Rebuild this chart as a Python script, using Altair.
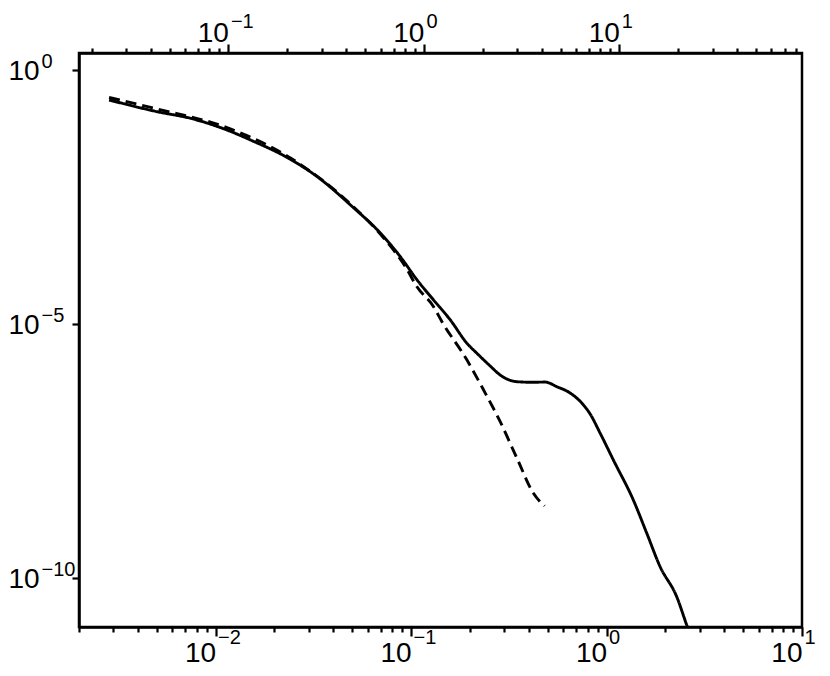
import altair as alt
import pandas as pd

# ---- values (log10 of x and y) ----
solid_log_x = [-2.545, -2.298, -2.128, -1.958, -1.821, -1.617, -1.480, -1.310, -1.140, -1.055,
               -0.969, -0.885, -0.799, -0.714, -0.663, -0.595, -0.544, -0.458, -0.374, -0.314,
               -0.254, -0.186, -0.118, -0.084, -0.033, 0.035, 0.137, 0.206, 0.274, 0.359,
               0.410, 0.437]
solid_log_y = [-0.600, -0.831, -0.961, -1.167, -1.388, -1.768, -2.110, -2.667, -3.291, -3.685,
               -4.144, -4.537, -4.931, -5.390, -5.587, -5.837, -6.014, -6.146, -6.157, -6.152,
               -6.244, -6.368, -6.604, -6.781, -7.156, -7.687, -8.474, -9.130, -9.787, -10.378,
               -10.935, -11.230]

dashed_log_x = [-2.545, -2.298, -1.958, -1.617, -1.310, -1.140, -1.029, -0.969, -0.885, -0.842,
                -0.714, -0.629, -0.544, -0.458, -0.374, -0.317]
dashed_log_y = [-0.551, -0.778, -1.122, -1.742, -2.648, -3.317, -3.882, -4.281, -4.669, -4.965,
                -5.719, -6.309, -6.933, -7.654, -8.343, -8.593]

# axes
x_domain = [2.0e-3, 10.0]
x_top_domain = [0.0172, 86.0]
y_domain = [10 ** -10.974, 10 ** 0.325]
x_major = [0.01, 0.1, 1.0, 10.0]
x_major_exp = ["−2", "−1", "0", "1"]
x_top_major = [0.1, 1.0, 10.0]
x_top_major_exp = ["−1", "0", "1"]
y_major = [1.0, 1e-5, 1e-10]
y_major_exp = ["0", "−5", "−10"]
minor_mult = [2, 3, 4, 5, 6, 7, 8, 9]

rows = []
for i, (lx, ly) in enumerate(zip(solid_log_x, solid_log_y)):
    rows.append({"x": 10 ** lx, "y": 10 ** ly, "series": "solid", "i": i})
for i, (lx, ly) in enumerate(zip(dashed_log_x, dashed_log_y)):
    rows.append({"x": 10 ** lx, "y": 10 ** ly, "series": "dashed", "i": i})
df = pd.DataFrame(rows)


def tick_values(domain, majors):
    vals = list(majors)
    for m in majors + [majors[0] / 10]:
        for k in minor_mult:
            v = round(k * m, 12)
            if domain[0] <= v <= domain[1]:
                vals.append(v)
    return sorted(set(vals))


def label_expr(values, labels):
    expr = "''"
    for v, l in zip(values, labels):
        expr = f"abs(datum.value/{v} - 1) < 1e-6 ? '{l}' : ({expr})"
    return expr


def major_test(values):
    return " || ".join(f"abs(datum.value/{v} - 1) < 1e-6" for v in values)


FONT = "Liberation Sans Narrow, Liberation Sans, Arial, Helvetica, sans-serif"
BASE_SIZE = 28
EXP_SIZE = 20
common = dict(labelFont=FONT, labelColor="black", grid=False, title=None,
              labelFlush=False, labelOverlap=False, labelBound=False,
              domainColor="black", domainWidth=2.5, tickColor="black", tickWidth=2.2)
exp_common = dict(common, domain=False, ticks=True, tickSize=0, tickWidth=0,
                  labelFontSize=EXP_SIZE, labelBaseline="alphabetic")

# base "10" labels with ticks
x_axis = alt.Axis(
    orient="bottom", values=tick_values(x_domain, x_major),
    labelExpr=label_expr(x_major, ["10"] * len(x_major)),
    tickSize={"condition": {"test": major_test(x_major), "value": 9}, "value": 5},
    labelAlign="right", labelBaseline="alphabetic", labelPadding=25,
    labelFontSize=BASE_SIZE, **common,
)
x_top_axis = alt.Axis(
    orient="top", values=tick_values(x_top_domain, x_top_major),
    labelExpr=label_expr(x_top_major, ["10"] * len(x_top_major)),
    tickSize={"condition": {"test": major_test(x_top_major), "value": 9}, "value": 5},
    labelAlign="right", labelBaseline="alphabetic", labelPadding=3,
    labelFontSize=BASE_SIZE, **common,
)
y_axis = alt.Axis(
    orient="left", values=y_major, labelExpr=label_expr(y_major, ["10"] * len(y_major)),
    tickSize=7, labelAlign="left", labelPadding=64, labelBaseline="alphabetic", labelOffset=10,
    labelFontSize=BASE_SIZE, **common,
)
# exponent labels
x_exp_axis = alt.Axis(orient="bottom", values=x_major, labelExpr=label_expr(x_major, x_major_exp),
                      labelAlign="left", labelPadding=16, labelOffset=2, **exp_common)
x_top_exp_axis = alt.Axis(orient="top", values=x_top_major,
                          labelExpr=label_expr(x_top_major, x_top_major_exp),
                          labelAlign="left", labelPadding=26, labelOffset=2, **exp_common)
y_exp_axis = alt.Axis(orient="left", values=y_major, labelExpr=label_expr(y_major, y_major_exp),
                      labelAlign="left", labelPadding=38, labelOffset=-2, **exp_common)

xs = alt.Scale(type="log", domain=x_domain, nice=False)
xts = alt.Scale(type="log", domain=x_top_domain, nice=False)
ys = alt.Scale(type="log", domain=y_domain, nice=False)

lines = alt.Chart(df).mark_line(clip=True, color="black", strokeWidth=2.9,
                                interpolate="monotone").encode(
    x=alt.X("x:Q", scale=xs, axis=x_axis),
    y=alt.Y("y:Q", scale=ys, axis=y_axis),
    strokeDash=alt.StrokeDash("series:N", scale=alt.Scale(domain=["solid", "dashed"],
                                                          range=[[1, 0], [11, 6]]), legend=None),
    detail="series:N",
    order="i:Q",
)

top_df = pd.DataFrame({"x": x_top_domain})
bot_df = pd.DataFrame({"x": x_domain})
y_df = pd.DataFrame({"y": y_domain})

top = alt.Chart(top_df).mark_point(opacity=0, size=0).encode(
    x=alt.X("x:Q", scale=xts, axis=x_top_axis))
top_exp = alt.Chart(top_df).mark_point(opacity=0, size=0).encode(
    x=alt.X("x:Q", scale=xts, axis=x_top_exp_axis))
bot_exp = alt.Chart(bot_df).mark_point(opacity=0, size=0).encode(
    x=alt.X("x:Q", scale=xs, axis=x_exp_axis))
left_exp = alt.Chart(y_df).mark_point(opacity=0, size=0).encode(
    y=alt.Y("y:Q", scale=ys, axis=y_exp_axis))

chart = alt.layer(lines, top, top_exp, bot_exp, left_exp).resolve_scale(
    x="independent", y="independent"
).properties(
    width=723, height=574,
    autosize=alt.AutoSizeParams(type="none"),
    padding={"left": 71, "top": 45, "right": 20, "bottom": 41},
    background="white",
).configure_view(stroke="black", strokeWidth=2.5)

chart.save("out.html", embed_options={"renderer": "svg", "actions": False})
